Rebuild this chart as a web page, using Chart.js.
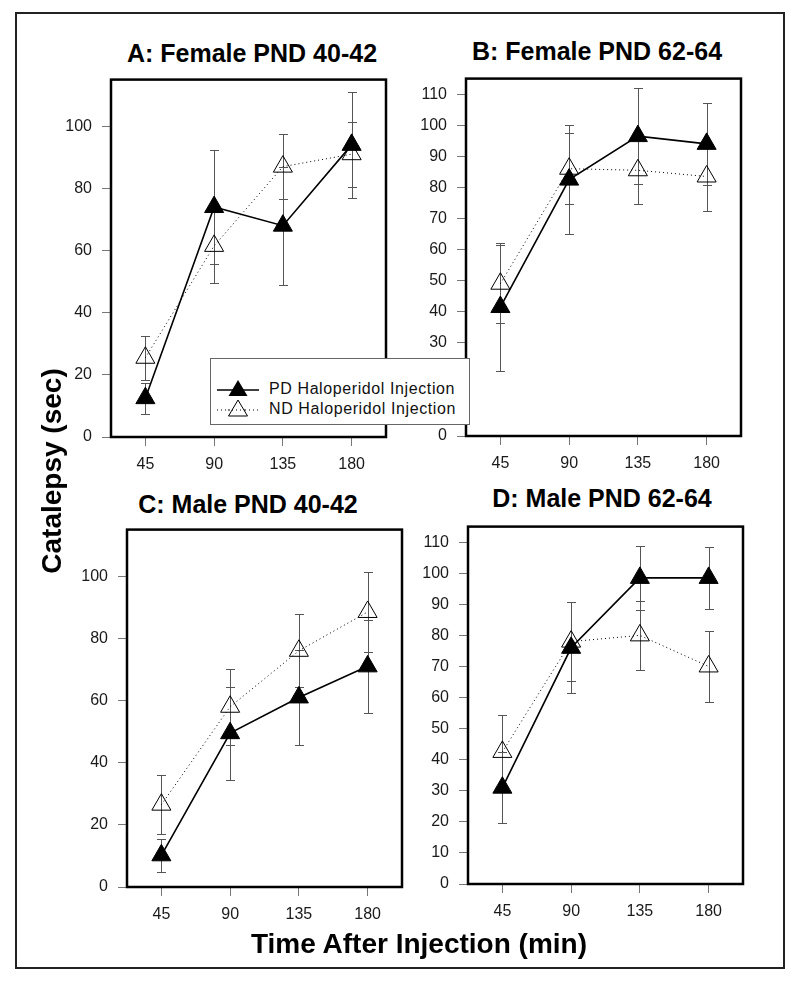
<!DOCTYPE html>
<html>
<head>
<meta charset="utf-8">
<script src="https://cdn.jsdelivr.net/npm/chart.js@4.4.0/dist/chart.umd.min.js"></script>
<style>
  body { margin: 0; background: #fff; font-family: "Liberation Sans", Arial, sans-serif; }
  #page { position: relative; width: 800px; height: 986px; overflow: hidden; }
  .frame { position: absolute; left: 15px; top: 12px; width: 770px; height: 957px; border: 2px solid #222; box-sizing: border-box; }
  canvas { position: absolute; }
  .ptitle { position: absolute; width: 400px; text-align: center; font-weight: bold; font-size: 25px; line-height: 1; color: #000; white-space: nowrap; }
  .axtitle { position: absolute; font-weight: bold; font-size: 28px; line-height: 1; color: #000; white-space: nowrap; text-align: center; width: 400px; }
  #legend { position: absolute; left: 210px; top: 358px; width: 260px; height: 67px; background: #fff; border: 1px solid #666; box-sizing: border-box; z-index: 5; }
  #legend .row { position: absolute; left: 5px; height: 24px; width: 250px; }
  #legend svg { position: absolute; left: 0; top: 0; }
  #legend span { position: absolute; left: 53px; top: 2px; font-size: 16px; line-height: 20px; letter-spacing: 0.6px; color: #111; }
</style>
</head>
<body>
<div id="page">
  <div class="frame"></div>

  <div class="ptitle" style="left:52px; top:41px;">A: Female PND 40-42</div>
  <div class="ptitle" style="left:397px; top:39px;">B: Female PND 62-64</div>
  <div class="ptitle" style="left:48px; top:492px;">C: Male PND 40-42</div>
  <div class="ptitle" style="left:402px; top:486px;">D: Male PND 62-64</div>

  <canvas id="chartA" width="347" height="427" style="left:51px; top:60px;"></canvas>
  <canvas id="chartB" width="347" height="427" style="left:406px; top:59px;"></canvas>
  <canvas id="chartC" width="347" height="427" style="left:67px; top:510px;"></canvas>
  <canvas id="chartD" width="347" height="427" style="left:408px; top:507px;"></canvas>

  <div class="axtitle" style="left:-148px; top:457px; transform: rotate(-90deg);">Catalepsy (sec)</div>
  <div class="axtitle" style="left:219px; top:930px;">Time After Injection (min)</div>

  <div id="legend">
    <div class="row" style="top:18px;">
      <svg width="46" height="24"><line x1="1" y1="13" x2="43" y2="13" stroke="#000" stroke-width="1.6"/><polygon points="22,3 31.5,19 12.5,19" fill="#000"/></svg>
      <span>PD Haloperidol Injection</span>
    </div>
    <div class="row" style="top:38px;">
      <svg width="46" height="24"><line x1="1" y1="13" x2="43" y2="13" stroke="#000" stroke-width="1" stroke-dasharray="1,3"/><polygon points="22,3 31.5,19 12.5,19" fill="#fff" stroke="#000" stroke-width="1"/><line x1="12" y1="13" x2="32" y2="13" stroke="#000" stroke-width="1" stroke-dasharray="1,3"/></svg>
      <span>ND Haloperidol Injection</span>
    </div>
  </div>
</div>

<script>
// time points (min after injection)
const timePoints = [45, 90, 135, 180];

// y tick labels
const yTicksFortyDay = [0, 20, 40, 60, 80, 100];
const yTicksSixtyDay = [0, 10, 20, 30, 40, 50, 60, 70, 80, 90, 100, 110];

// A: Female PND 40-42
const pdFemaleYoung = [12.5, 74, 68, 94];
const pdFemaleYoungErr = [5, 18.3, 19, 17];
const ndFemaleYoung = [25.5, 61.5, 87, 91];
const ndFemaleYoungErr = [7, 12, 10.5, 10.5];

// B: Female PND 62-64
const pdFemaleAdult = [41.5, 82.5, 96.5, 94];
const pdFemaleAdultErr = [20.5, 17.5, 15.5, 13.3];
const ndFemaleAdult = [49, 86, 85.5, 83.5];
const ndFemaleAdultErr = [12.5, 11.5, 11, 11];

// C: Male PND 40-42
const pdMaleYoung = [10.2, 49.5, 61, 71];
const pdMaleYoungErr = [5.4, 15, 15.3, 15];
const ndMaleYoung = [26.5, 58, 76, 88.5];
const ndMaleYoungErr = [9.5, 12.3, 11.8, 12.8];

// D: Male PND 62-64
const pdMaleAdult = [31, 76, 98.5, 98.5];
const pdMaleAdultErr = [11.5, 14.6, 10.4, 10];
const ndMaleAdult = [42.5, 78, 80, 70];
const ndMaleAdultErr = [12, 12.7, 11, 11.5];

Chart.defaults.font.family = '"Liberation Sans", Arial, sans-serif';
Chart.defaults.font.size = 16;
Chart.defaults.color = '#1a1a1a';

// error bars, drawn under the markers
const errorBars = {
  id: 'errorBars',
  beforeDatasetsDraw(chart) {
    const ctx = chart.ctx;
    const x = chart.scales.x, y = chart.scales.y;
    ctx.save();
    ctx.strokeStyle = '#555';
    ctx.lineWidth = 1;
    chart.data.datasets.forEach(ds => {
      ds.data.forEach((pt, i) => {
        const err = ds.errors[i];
        const px = Math.round(x.getPixelForValue(pt.x)) + 0.5;
        const top = Math.round(y.getPixelForValue(pt.y + err)) + 0.5;
        const bot = Math.round(y.getPixelForValue(pt.y - err)) + 0.5;
        ctx.beginPath();
        ctx.moveTo(px, top); ctx.lineTo(px, bot);
        ctx.moveTo(px - 4.5, top); ctx.lineTo(px + 4.5, top);
        ctx.moveTo(px - 4.5, bot); ctx.lineTo(px + 4.5, bot);
        ctx.stroke();
      });
    });
    ctx.restore();
  }
};

// black box round the plot area
const frameBox = {
  id: 'frameBox',
  afterDraw(chart) {
    const ctx = chart.ctx, a = chart.chartArea;
    ctx.save();
    ctx.lineWidth = 2.5;
    ctx.strokeStyle = '#000';
    ctx.strokeRect(a.left, a.top, a.right - a.left, a.bottom - a.top);
    ctx.restore();
  }
};

function toPoints(vals) {
  return timePoints.map((t, i) => ({ x: t, y: vals[i] }));
}

function makeChart(id, pd, pdErr, nd, ndErr, yTicks) {
  const ctx = document.getElementById(id).getContext('2d');
  return new Chart(ctx, {
    type: 'line',
    data: {
      datasets: [
        {
          label: 'PD Haloperidol Injection',
          data: toPoints(pd),
          errors: pdErr,
          borderColor: '#000',
          borderWidth: 1.6,
          backgroundColor: '#000',
          pointStyle: 'triangle',
          pointRadius: 11,
          pointBorderWidth: 1,
          pointBackgroundColor: '#000',
          pointBorderColor: '#000',
          tension: 0
        },
        {
          label: 'ND Haloperidol Injection',
          data: toPoints(nd),
          errors: ndErr,
          borderColor: '#000',
          borderWidth: 1,
          borderDash: [1, 3],
          pointStyle: 'triangle',
          pointRadius: 11,
          pointBorderWidth: 1,
          pointBackgroundColor: 'rgba(0,0,0,0)',
          pointBorderColor: '#000',
          tension: 0
        }
      ]
    },
    options: {
      responsive: false,
      animation: false,
      devicePixelRatio: 1,
      layout: { padding: { top: 12, right: 12, left: 0, bottom: 0 } },
      plugins: {
        legend: { display: false },
        title: { display: false },
        tooltip: { enabled: false }
      },
      scales: {
        x: {
          type: 'linear',
          min: 22.5,
          max: 202.5,
          afterBuildTicks: s => { s.ticks = timePoints.map(v => ({ value: v })); },
          afterFit: s => { s.height = 50; },
          grid: { display: true, drawOnChartArea: false, drawTicks: true, tickLength: 9, color: '#777' },
          border: { display: false },
          ticks: { padding: 9, autoSkip: false, maxRotation: 0 }
        },
        y: {
          type: 'linear',
          min: 0,
          max: 115,
          afterBuildTicks: s => { s.ticks = yTicks.map(v => ({ value: v })); },
          afterFit: s => { s.width = 60; },
          grid: { display: true, drawOnChartArea: false, drawTicks: true, tickLength: 9, color: '#777' },
          border: { display: false },
          ticks: { padding: 10, autoSkip: false }
        }
      }
    },
    plugins: [errorBars, frameBox]
  });
}

makeChart('chartA', pdFemaleYoung, pdFemaleYoungErr, ndFemaleYoung, ndFemaleYoungErr, yTicksFortyDay);
makeChart('chartB', pdFemaleAdult, pdFemaleAdultErr, ndFemaleAdult, ndFemaleAdultErr, yTicksSixtyDay);
makeChart('chartC', pdMaleYoung, pdMaleYoungErr, ndMaleYoung, ndMaleYoungErr, yTicksFortyDay);
makeChart('chartD', pdMaleAdult, pdMaleAdultErr, ndMaleAdult, ndMaleAdultErr, yTicksSixtyDay);
</script>
</body>
</html>
